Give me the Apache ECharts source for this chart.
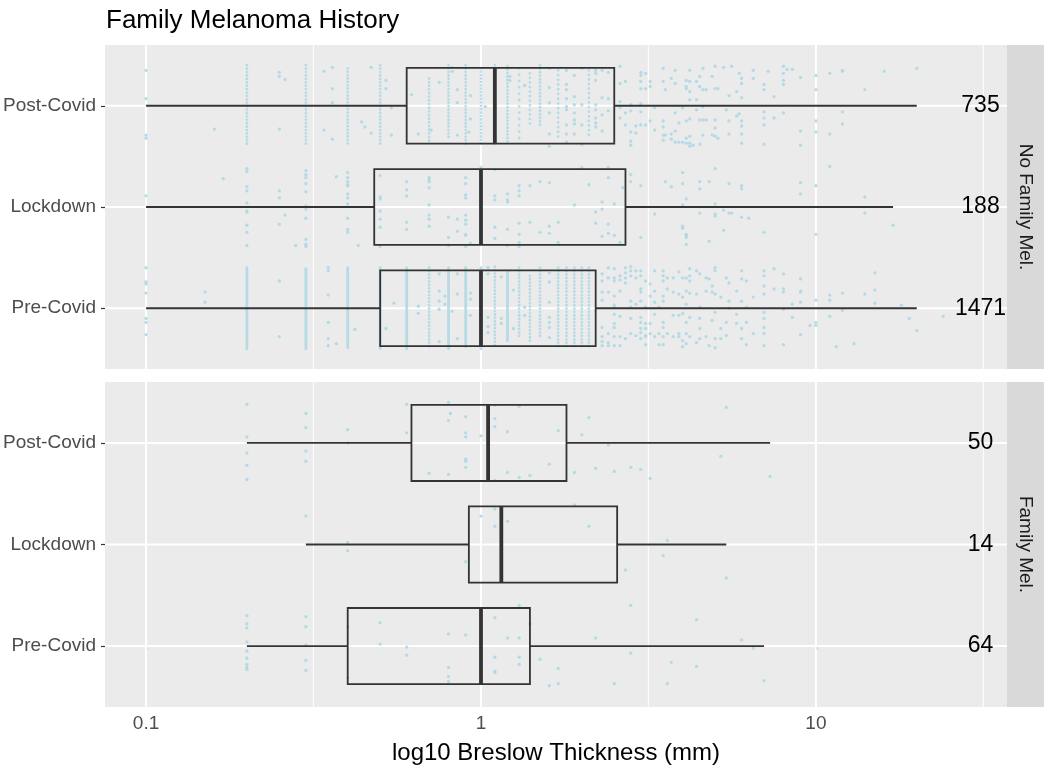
<!DOCTYPE html>
<html><head><meta charset="utf-8">
<script src="https://cdn.jsdelivr.net/npm/echarts@6/dist/echarts.min.js"></script>
<style>html,body{margin:0;padding:0;background:#fff}#c{width:1046px;height:769px}</style>
</head><body><div id="c"></div>
<script>
const chartTitle = 'Family Melanoma History';
const xTitle = 'log10 Breslow Thickness (mm)';
const categories = ['Pre-Covid', 'Lockdown', 'Post-Covid']; // bottom to top
const panelNames = ['No Family Mel.', 'Family Mel.'];
const xMin = 0.0754, xMax = 37.2;
const majorBreaks = [0.1, 1, 10];
const minorBreaks = [0.316, 3.16, 31.6];
const countLabelX = 31;
const countsNoFam = [1471, 188, 735];
const countsFam = [64, 14, 50];

// [lower whisker, q1, median, q3, upper whisker] per category
const boxNoFam = [[0.1, 0.5, 1.0, 2.2, 20], [0.1, 0.48, 1.0, 2.7, 17], [0.1, 0.6, 1.1, 2.5, 20]];
const boxFam = [[0.2, 0.4, 1.0, 1.4, 7.0], [0.3, 0.92, 1.15, 2.55, 5.4], [0.2, 0.62, 1.05, 1.8, 7.3]];

// dense columns of cases: [value, top jitter, bottom jitter, approx count]
const stripesNoFamPre = [[0.2,0.40,-0.40,90],[0.3,0.39,-0.40,80],[0.4,0.40,-0.39,80],[0.5,0.40,-0.40,60],[0.6,0.40,-0.40,90],[0.7,0.40,-0.38,45],[0.8,0.40,-0.40,80],[0.9,0.40,-0.38,70],[1.0,0.40,-0.40,80],[1.1,0.41,-0.38,50],[1.2,0.37,-0.32,60],[1.3,0.40,-0.30,35],[1.4,0.32,-0.33,30],[1.5,0.40,-0.28,40],[1.7,0.40,-0.40,35],[1.8,0.40,-0.40,40],[1.9,0.40,-0.40,30],[2.0,0.40,-0.40,45],[2.1,0.40,-0.40,30]];
const stripesNoFamLock = [];
const stripesNoFamPost = [[0.2,0.40,-0.40,45],[0.3,0.40,-0.38,50],[0.4,0.37,-0.40,40],[0.5,0.40,-0.40,25],[0.7,0.27,-0.38,18],[0.8,0.40,-0.33,35],[0.9,0.40,-0.40,40],[1.0,0.37,-0.38,30],[1.1,0.40,-0.40,30],[1.2,0.39,-0.38,25],[1.3,0.37,-0.38,12],[1.4,0.32,-0.22,12],[1.5,0.40,-0.22,18],[1.7,0.35,-0.35,15],[2.1,0.35,-0.33,15]];

// individual jittered cases: [value, [vertical jitter ...]]
const ptsNoFamPre = [[0.1,[0.40,0.26,0.24,0.15,-0.10,-0.14,-0.26]],[0.15,[0.16,0.06]],[0.25,[0.27,-0.28]],[0.35,[0.40,0.37,0.13,-0.14,-0.30,-0.37]],[0.37,[-0.35]],[0.42,[-0.21]],[0.52,[-0.20]],[0.55,[0.05]],[0.65,[0.02,-0.05]],[0.75,[0.34,0.17,0.07,-0.01,-0.33]],[0.78,[0.12,0.04]],[0.82,[-0.03]],[0.85,[0.34,0.14,-0.30]],[0.93,[0.15,0.09,-0.07]],[1.05,[0.40,0.34,-0.09,-0.18,-0.24]],[1.15,[0.31,-0.10,-0.15]],[1.25,[0.18,-0.20]],[1.35,[0.01,-0.07]],[1.6,[0.35,0.26,0.06,-0.09,-0.14,-0.19,-0.29]],[2.3,[0.34,0.27,0.16,0.08,-0.19,-0.28,-0.33,-0.37]],[2.4,[0.40,0.30,0.16,-0.25,-0.34,-0.37]],[2.5,[0.39,0.30,0.27,0.12,0.03,0.01,-0.06,-0.15,-0.19,-0.28,-0.37]],[2.6,[0.32,0.28,0.17,-0.08,-0.28,-0.37]],[2.7,[0.40,0.35,0.30,0.25,-0.30]],[2.8,[0.41,0.37,0.32,0.07,0.01,-0.10,-0.25]],[2.9,[0.37,0.30,0.04,-0.27]],[3.0,[0.37,0.32,0.19,0.16,0.07,-0.09,-0.14,-0.20,-0.24,-0.30]],[3.1,[0.27,0.01,-0.15,-0.20,-0.27,-0.28,-0.36]],[3.2,[0.24,0.12,-0.15,-0.25]],[3.3,[0.37,0.17,0.06,-0.06,-0.28]],[3.4,[0.01,-0.25,-0.36]],[3.5,[0.37,0.32,0.27,0.12,0.07,-0.14,-0.19,-0.28,-0.36]],[3.6,[0.30,0.19,-0.25]],[3.75,[0.30,0.16,-0.07,-0.28]],[3.9,[0.36,0.14,-0.07,-0.25,-0.28]],[4.0,[0.30,0.11,-0.05,-0.32,-0.38]],[4.1,[0.30,0.17,0.04,-0.14,-0.25,-0.35]],[4.2,[0.39,0.32,0.27,0.15,-0.09,-0.28]],[4.4,[0.37,0.14,-0.34]],[4.5,[0.34,0.01,-0.10,-0.20,-0.30]],[4.7,[0.30,0.17,-0.28]],[4.8,[0.29,-0.37]],[4.9,[0.22,0.16,-0.12]],[5.0,[0.40,0.37,0.14,-0.04,-0.30,-0.39]],[5.2,[0.11,-0.20,-0.30]],[5.4,[0.30,-0.14,-0.27]],[5.5,[0.25,0.07,0.00]],[5.8,[0.17,-0.06,-0.15]],[6.0,[0.37,0.29,0.07,-0.20,-0.30]],[6.2,[0.27,0.01,-0.14,-0.36]],[6.5,[0.11,-0.25]],[7.0,[0.37,0.32,0.22,0.14,-0.04,-0.10,-0.19,-0.25,-0.37]],[7.5,[0.39,0.19]],[8.0,[0.34,0.19,0.16,-0.01,-0.36]],[8.5,[0.04,-0.09]],[9.0,[0.29,0.17,0.16,0.06,-0.26]],[9.6,[-0.17]],[10,[0.08,-0.14,-0.17]],[11,[0.13,0.08,-0.08]],[11.5,[-0.38]],[12,[0.15,-0.02]],[13,[-0.35]],[14,[0.14]],[15,[0.35,0.18,0.05]],[18,[0.03]],[19,[-0.10]],[20,[-0.22]],[24,[-0.08]]];
const ptsNoFamLock = [[0.1,[0.11]],[0.17,[0.28]],[0.2,[0.38,0.35,0.20,0.16,0.04,-0.04,-0.05,-0.18,-0.25,-0.38]],[0.25,[0.16,0.09,-0.17]],[0.26,[-0.08]],[0.28,[-0.38]],[0.3,[0.36,0.32,0.29,0.23,0.15,0.01,-0.02,-0.11,-0.32,-0.37,-0.39]],[0.37,[0.30]],[0.4,[0.34,0.29,0.25,0.22,0.21,0.13,0.09,0.03,-0.11,-0.22,-0.25]],[0.43,[-0.38]],[0.5,[0.31,0.10,0.08,-0.04,-0.12,-0.20,-0.39]],[0.6,[0.25,0.17,0.11,-0.15,-0.22]],[0.7,[0.29,0.27,0.25,0.19,0.02,-0.08,-0.12,-0.19]],[0.8,[-0.10,-0.30,-0.38]],[0.85,[-0.12,-0.24]],[0.9,[0.29,0.23,0.12,0.09,-0.08,-0.13,-0.17,-0.27,-0.28,-0.39]],[0.93,[-0.36]],[1.0,[0.39]],[1.1,[0.37,0.11,0.07,-0.20,-0.31]],[1.2,[0.13,0.07,0.05,-0.22,-0.38]],[1.3,[0.21,0.16,0.11,-0.16,-0.27,-0.35,-0.39]],[1.4,[0.21,-0.15]],[1.5,[0.25,-0.25]],[1.6,[0.24,-0.19,-0.26]],[1.7,[-0.15,-0.35]],[1.9,[0.02]],[2.0,[0.39]],[2.1,[0.22]],[2.2,[-0.05,-0.16]],[2.3,[0.05,-0.02,-0.29]],[2.4,[0.39,0.29,-0.17,-0.26]],[2.5,[0.03,-0.28]],[2.6,[-0.35]],[2.65,[0.19]],[2.8,[0.32,0.25]],[3.0,[0.21,-0.30]],[3.3,[-0.07]],[3.55,[0.25]],[3.7,[0.20]],[4.0,[0.34,0.23,0.02,-0.19,-0.21]],[4.1,[0.08,-0.27,-0.28,-0.30,-0.37]],[4.5,[0.25,0.18,-0.06]],[4.8,[0.25,-0.34]],[5.0,[0.38,0.03,-0.07,-0.09]],[5.3,[-0.03,-0.23]],[5.5,[0.23,-0.06]],[5.6,[-0.06]],[6.0,[0.21,0.18,-0.10]],[6.3,[-0.11]],[7.0,[-0.25]],[9.0,[0.24,0.13]],[10,[0.21,-0.27]],[11,[0.40]],[14,[0.10,-0.06]],[17,[-0.18]]];
const ptsNoFamPost = [[0.1,[0.35,0.07,-0.29,-0.32]],[0.16,[-0.23]],[0.25,[0.33,0.29,-0.23]],[0.26,[0.26]],[0.34,[0.34,-0.24]],[0.36,[0.38,0.17,0.03,-0.33]],[0.44,[-0.16]],[0.45,[-0.21]],[0.47,[0.38,-0.27]],[0.52,[0.25,0.17]],[0.54,[-0.29,-0.02]],[0.62,[0.11]],[0.65,[-0.28]],[0.71,[-0.24]],[0.75,[0.23]],[0.82,[0.38,0.34]],[0.85,[0.16,0.03,-0.29]],[0.92,[-0.26]],[0.93,[0.10,-0.13]],[1.03,[-0.01]],[1.22,[0.29,0.25]],[1.35,[0.20]],[1.6,[0.37,0.18,0.03,-0.07,-0.28,-0.40]],[1.8,[0.35,0.21,0.16,0.07,-0.01,-0.04,-0.19,-0.28,-0.36]],[1.9,[0.30,0.09,0.01,-0.07,-0.14,-0.18,-0.28]],[2.0,[0.37,0.01,-0.19,-0.38]],[2.2,[0.35,0.32,0.25,0.01,-0.04,-0.12,-0.17,-0.21]],[2.3,[0.35,0.08,-0.09,-0.25]],[2.4,[0.33,0.07,-0.05]],[2.6,[0.39,0.22,0.04,-0.02,-0.12]],[2.7,[0.24,-0.07,-0.19]],[2.8,[0.01,-0.05,-0.26,-0.35,-0.39]],[2.9,[-0.20,-0.27]],[3.0,[0.33,0.30,0.24,0.17,0.02,-0.06,-0.19]],[3.1,[0.32,0.17,-0.19]],[3.2,[0.24,0.19,-0.15]],[3.3,[-0.02,-0.24]],[3.5,[0.37,0.24,-0.15,-0.21,-0.29,-0.34]],[3.55,[0.16,-0.29]],[3.7,[0.27,-0.28,-0.33]],[3.8,[0.35,0.22,-0.07,-0.25,-0.36]],[3.9,[-0.17,-0.36]],[4.0,[-0.02,-0.36]],[4.1,[0.25,0.19,0.17,-0.15,-0.32,-0.37]],[4.2,[0.35,0.24,0.14,0.06,-0.13,-0.30,-0.37,-0.40]],[4.3,[-0.39]],[4.4,[0.24,0.06,-0.04]],[4.5,[0.29,0.19,-0.14,-0.38]],[4.6,[0.37,0.16,-0.01,-0.14,-0.29]],[4.7,[0.16,-0.14]],[4.9,[0.29,-0.29]],[5.0,[0.39,0.17,-0.14,-0.22,-0.30]],[5.1,[0.17,-0.32]],[5.3,[0.38]],[5.4,[-0.04]],[5.5,[0.10,-0.15,-0.28]],[5.6,[0.39]],[5.8,[0.14,-0.10]],[5.9,[0.32,-0.08]],[6.0,[0.27,0.22,0.08,-0.15,-0.20,-0.28,-0.37]],[6.5,[0.35,0.27]],[7.0,[0.21,0.16,-0.06,-0.12,-0.19,-0.38]],[7.2,[0.34]],[7.5,[0.09,-0.12]],[8.0,[0.39,0.32,0.25,0.21,-0.07]],[8.2,[0.36]],[8.5,[0.36]],[9.0,[0.28,-0.25,-0.39]],[10,[0.30,0.16,-0.15,-0.26]],[11,[0.32,-0.28]],[12,[0.35,0.34,-0.06,-0.18]],[14,[0.16]],[16,[0.34]],[20,[0.37]]];
const ptsFamPre = [[0.2,[0.30,0.22,0.18,0.04,-0.05,-0.12,-0.18,-0.21,-0.23]],[0.3,[0.29,0.19,0.01,-0.14,-0.24]],[0.4,[0.19,-0.31]],[0.5,[0.23,0.02]],[0.6,[-0.01,-0.09]],[0.8,[0.12,-0.21,-0.30,-0.35]],[0.9,[0.11]],[1.1,[0.28,-0.11,-0.25,-0.26]],[1.2,[0.08]],[1.3,[0.40,0.08,-0.11,-0.18]],[1.4,[0.22]],[1.5,[-0.13]],[1.6,[-0.39]],[1.7,[-0.22,-0.37]],[2.2,[0.08]],[2.5,[-0.37]],[2.8,[0.40,-0.07]],[3.6,[-0.37]],[3.7,[-0.16]],[4.4,[0.26,-0.20]],[6.0,[0.06]],[6.5,[-0.02]],[7.0,[-0.34]]];
const ptsFamLock = [[0.3,[0.28]],[0.4,[0.02,-0.06]],[0.9,[-0.17]],[1.0,[0.28]],[1.1,[0.35,0.18]],[1.2,[0.23]],[1.9,[0.39]],[2.1,[0.18]],[2.7,[-0.25]],[3.5,[-0.11]],[3.6,[0.04]],[5.4,[-0.33]]];
const ptsFamPost = [[0.2,[0.38,0.06,-0.10,-0.22,-0.36]],[0.3,[0.29,0.15,-0.08,-0.18]],[0.4,[0.13,0.0]],[0.6,[0.38,0.10]],[0.7,[-0.30]],[0.8,[0.40,0.22,-0.31]],[0.81,[0.29]],[0.9,[0.26,0.10,0.06,-0.16,-0.18,-0.24]],[1.0,[0.07]],[1.1,[0.37,0.24,0.16,-0.37]],[1.2,[0.11,-0.29]],[1.3,[0.36,-0.34]],[1.4,[-0.32]],[1.6,[-0.21]],[1.7,[0.12]],[1.9,[-0.29]],[2.0,[0.08]],[2.1,[0.25]],[2.2,[-0.25]],[2.4,[-0.02]],[2.5,[-0.28]],[2.8,[-0.24]],[3.0,[-0.26]],[3.2,[-0.35]],[5.2,[-0.13]],[5.4,[0.35]],[7.3,[-0.33]]];

const FONT = 'Liberation Sans, Arial, sans-serif';
const PT = '#ADD8E6';
const panelPts = [[ptsNoFamPre, ptsNoFamLock, ptsNoFamPost], [ptsFamPre, ptsFamLock, ptsFamPost]];
const panelStripes = [[stripesNoFamPre, stripesNoFamLock, stripesNoFamPost], [[], [], []]];
const panelBoxes = [boxNoFam, boxFam];
const panelCounts = [countsNoFam, countsFam];

const grids = [
  {left: 105, top: 45, width: 902, height: 324},
  {left: 105, top: 382, width: 902, height: 325}
];
const fmt = v => String(+(+v).toPrecision(3));

const xAxes = [], yAxes = [], series = [];
[0, 1].forEach(p => {
  const bottom = p === 1;
  xAxes.push({
    type: 'log', logBase: 10, gridIndex: p, min: xMin, max: xMax,
    axisLine: {show: false}, splitLine: {show: false}, minorSplitLine: {show: false},
    axisTick: {show: bottom, customValues: majorBreaks, length: 4, lineStyle: {color: '#333333', width: 1.2}},
    axisLabel: {show: bottom, customValues: majorBreaks, formatter: fmt, color: '#4D4D4D', fontSize: 19, fontFamily: FONT, margin: 7},
    name: bottom ? xTitle : '', nameLocation: 'middle', nameGap: 34,
    nameTextStyle: {fontSize: 24, color: '#000', fontFamily: FONT}
  });
  yAxes.push({
    type: 'value', gridIndex: p, min: -0.6, max: 2.6,
    axisLine: {show: false}, splitLine: {show: false},
    axisTick: {show: true, customValues: [0, 1, 2], length: 4, lineStyle: {color: '#333333', width: 1.2}},
    axisLabel: {customValues: [0, 1, 2], formatter: v => categories[Math.round(v)] || '', color: '#4D4D4D', fontSize: 19, fontFamily: FONT, margin: 9}
  });

  // panel grid lines
  series.push({
    type: 'custom', xAxisIndex: p, yAxisIndex: p, silent: true, z: 1,
    encode: {x: 0, y: 1}, data: [[1, 0]],
    renderItem: (params, api) => {
      const cs = params.coordSys;
      const ch = [];
      minorBreaks.forEach(v => {
        const x = api.coord([v, 0])[0];
        ch.push({type: 'line', shape: {x1: x, y1: cs.y, x2: x, y2: cs.y + cs.height}, style: {stroke: '#FFFFFF', lineWidth: 1}});
      });
      majorBreaks.forEach(v => {
        const x = api.coord([v, 0])[0];
        ch.push({type: 'line', shape: {x1: x, y1: cs.y, x2: x, y2: cs.y + cs.height}, style: {stroke: '#FFFFFF', lineWidth: 2}});
      });
      categories.forEach((c, i) => {
        const y = api.coord([1, i])[1];
        ch.push({type: 'line', shape: {x1: cs.x, y1: y, x2: cs.x + cs.width, y2: y}, style: {stroke: '#FFFFFF', lineWidth: 2}});
      });
      return {type: 'group', children: ch};
    }
  });

  // dense columns of cases, drawn as a run of dots
  const sData = [];
  panelStripes[p].forEach((rows, i) => rows.forEach(s => sData.push([s[0], i + s[1], i + s[2], s[3]])));
  series.push({
    type: 'custom', xAxisIndex: p, yAxisIndex: p, silent: true, z: 2,
    encode: {x: 0, y: [1, 2]}, data: sData,
    renderItem: (params, api) => {
      const a = api.coord([api.value(0), api.value(1)]);
      const b = api.coord([api.value(0), api.value(2)]);
      const span = Math.abs(b[1] - a[1]);
      const gap = span / api.value(3);
      const style = {stroke: PT, lineWidth: 2.8, opacity: 0.85, lineCap: 'round'};
      if (gap > 1.4) style.lineDash = [0.01, Math.max(gap, 3.4)];
      return {type: 'line', shape: {x1: a[0], y1: a[1], x2: b[0], y2: b[1]}, style};
    }
  });

  // jittered cases
  const pData = [];
  panelPts[p].forEach((rows, i) => rows.forEach(r => r[1].forEach(o => pData.push([r[0], i + o]))));
  series.push({
    type: 'scatter', xAxisIndex: p, yAxisIndex: p, silent: true, z: 3,
    symbol: 'circle', symbolSize: 3.3, data: pData,
    itemStyle: {color: PT, opacity: 0.9, borderWidth: 0}
  });

  // boxes
  series.push({
    type: 'custom', xAxisIndex: p, yAxisIndex: p, silent: true, z: 4,
    encode: {x: [1, 2, 3, 4, 5], y: 0},
    data: panelBoxes[p].map((b, i) => [i].concat(b)),
    renderItem: (params, api) => {
      const i = api.value(0);
      const yc = api.coord([1, i])[1];
      const yt = api.coord([1, i + 0.375])[1];
      const yb = api.coord([1, i - 0.375])[1];
      const X = k => api.coord([api.value(k), i])[0];
      const lo = X(1), q1 = X(2), md = X(3), q3 = X(4), hi = X(5);
      const st = {stroke: '#333333', lineWidth: 1.8};
      return {type: 'group', children: [
        {type: 'line', shape: {x1: lo, y1: yc, x2: q1, y2: yc}, style: st},
        {type: 'line', shape: {x1: q3, y1: yc, x2: hi, y2: yc}, style: st},
        {type: 'rect', shape: {x: q1, y: yt, width: q3 - q1, height: yb - yt}, style: {stroke: '#333333', lineWidth: 1.8, fill: 'rgba(0,0,0,0)'}},
        {type: 'line', shape: {x1: md, y1: yt, x2: md, y2: yb}, style: {stroke: '#333333', lineWidth: 3.8}}
      ]};
    }
  });

  // counts
  series.push({
    type: 'custom', xAxisIndex: p, yAxisIndex: p, silent: true, z: 5,
    encode: {x: 0, y: 1},
    data: panelCounts[p].map((n, i) => [countLabelX, i, n]),
    renderItem: (params, api) => {
      const c = api.coord([api.value(0), api.value(1)]);
      return {type: 'text', x: c[0], y: c[1], style: {text: String(api.value(2)), fontSize: 23, fontFamily: FONT, fill: '#000', align: 'center', verticalAlign: 'middle'}};
    }
  });
});

const graphics = [];
grids.forEach((g, p) => {
  graphics.push({type: 'rect', shape: {x: g.left + g.width, y: g.top, width: 37, height: g.height}, style: {fill: '#D9D9D9'}, silent: true});
  graphics.push({type: 'text', x: g.left + g.width + 18.5, y: g.top + g.height / 2, rotation: -Math.PI / 2,
    style: {text: panelNames[p], fontSize: 19, fontFamily: FONT, fill: '#1A1A1A', align: 'center', verticalAlign: 'middle'}, silent: true});
});

const chart = echarts.init(document.getElementById('c'), null, {renderer: 'canvas'});
chart.setOption({
  animation: false,
  backgroundColor: '#FFFFFF',
  textStyle: {fontFamily: FONT},
  title: {text: chartTitle, left: 101, top: 3, textStyle: {fontSize: 26, fontWeight: 'normal', color: '#000', fontFamily: FONT}},
  grid: grids.map(g => Object.assign({show: true, backgroundColor: '#EBEBEB', borderWidth: 0, containLabel: false, outerBoundsMode: 'none'}, g)),
  xAxis: xAxes, yAxis: yAxes, series,
  graphic: graphics
});
</script>
</body></html>
